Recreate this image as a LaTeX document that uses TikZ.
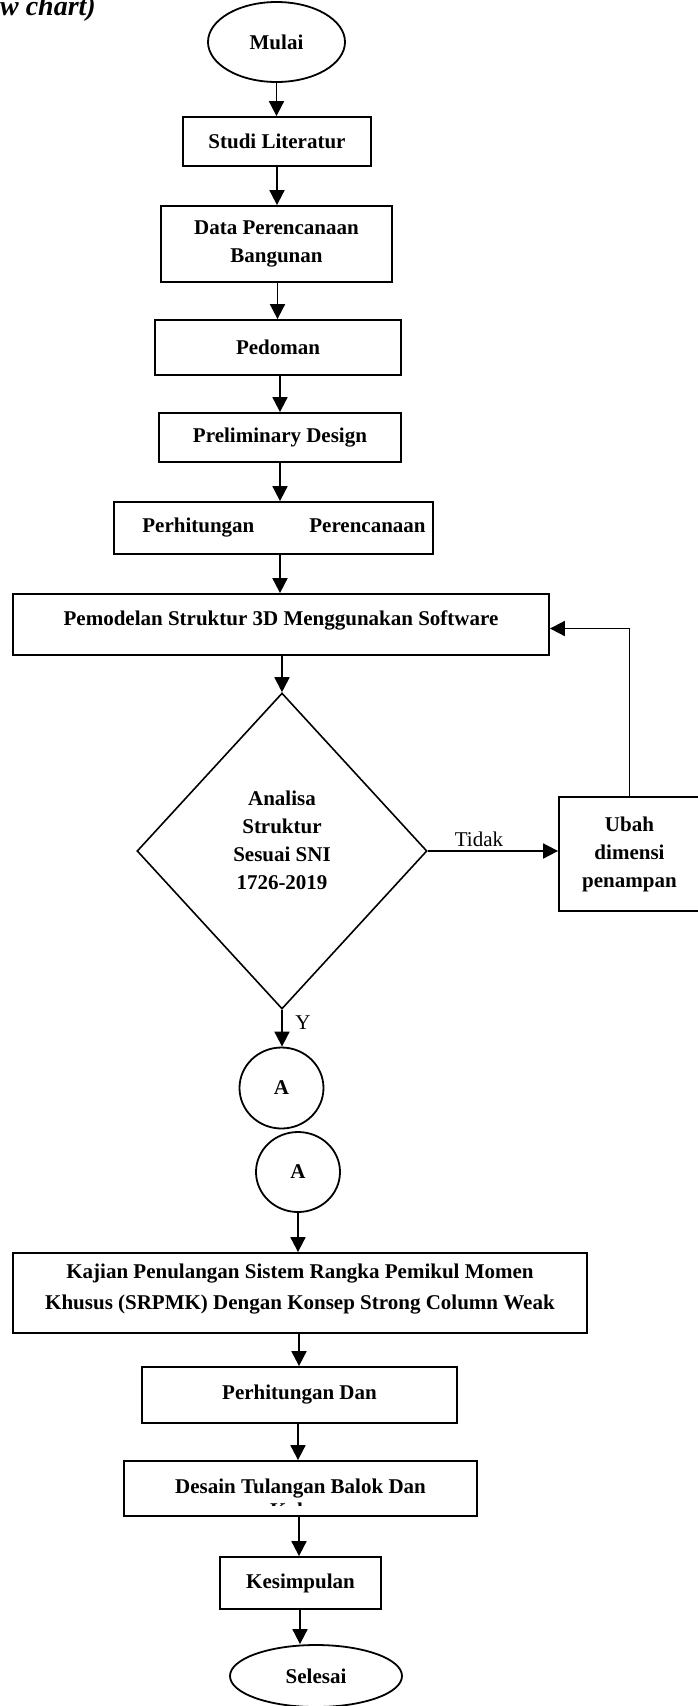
\documentclass[tikz,border=0pt]{standalone}
\usepackage{fontspec}
\setmainfont{Liberation Serif}
\usetikzlibrary{shapes.geometric,arrows.meta}
\begin{document}
\begin{tikzpicture}[x=1pt,y=-1pt,
  bold/.style={font=\fontsize{21}{28}\selectfont\bfseries},
  plain/.style={font=\fontsize{21}{25}\selectfont},
  proc/.style={bold,draw,line width=1.8pt,rectangle,inner sep=0pt,align=center},
  term/.style={bold,draw,line width=1.8pt,ellipse,inner sep=0pt},
  decide/.style={bold,draw,line width=1.6pt,diamond,inner sep=0pt,align=center},
  arr/.style={line width=1.8pt,-{Triangle[length=15pt,width=15pt]}}
]
\useasboundingbox (0,0) rectangle (697,1706);

% heading, partly outside the page
\node[anchor=base east,inner sep=0pt,font=\fontsize{28}{30}\selectfont\bfseries\itshape] (head) at (96,15) {w chart)};

% main column
\node[term,minimum width=137pt,minimum height=80pt] (mulai) at (276.5,42) {Mulai};
\node[proc,minimum width=188pt,minimum height=49pt] (studi) at (277,141.5) {Studi Literatur};
\node[proc,minimum width=231pt,minimum height=76pt] (data) at (276.5,244) {Data Perencanaan\\Bangunan};
\node[proc,minimum width=246pt,minimum height=55pt] (pedoman) at (278,347.5) {Pedoman};
\node[proc,minimum width=242pt,minimum height=49pt] (prelim) at (280,437.5) {Preliminary Design};
\node[proc,minimum width=319pt,minimum height=52pt] (hitung) at (273.5,528) {\hspace*{21pt}Perhitungan\hspace{55pt}Perencanaan};
\node[proc,minimum width=536pt,minimum height=61pt,text depth=13.5pt] (model) at (281,624.5) {Pemodelan Struktur 3D Menggunakan Software};
\node[decide,minimum width=290pt,minimum height=316pt,text depth=22pt] (analisa) at (282,851) {Analisa\\Struktur\\Sesuai SNI\\1726-2019};
\node[proc,minimum width=141pt,minimum height=114pt] (ubah) at (629.5,854) {Ubah\\dimensi\\penampan};

% connectors
\node[term,minimum width=84pt,minimum height=81pt] (a1) at (281.5,1088) {A};
\node[term,minimum width=84pt,minimum height=80pt] (a2) at (298,1172) {A};

% second part
\node[proc,minimum width=574pt,minimum height=80pt,text depth=13pt,font=\fontsize{21}{31}\selectfont\bfseries] (kajian) at (300,1293) {Kajian Penulangan Sistem Rangka Pemikul Momen\\Khusus (SRPMK) Dengan Konsep Strong Column Weak};
\node[proc,minimum width=315pt,minimum height=56pt] (hitdan) at (299.5,1395) {Perhitungan Dan};
\node[proc,minimum width=353pt,minimum height=55pt] (desain) at (300.5,1488.5) {Desain Tulangan Balok Dan};
\begin{scope}
  \clip (130,1495) rectangle (470,1505.5);
  \node[bold,anchor=base,inner sep=0pt] (kolom) at (300.5,1517) {Kolom};
\end{scope}
\node[proc,minimum width=161pt,minimum height=52pt] (simpul) at (300.5,1583) {Kesimpulan};
\node[term,minimum width=172pt,minimum height=62pt] (selesai) at (316,1676) {Selesai};

% labels
\node[plain,inner sep=0pt] (tidak) at (479,839) {Tidak};
\node[plain,inner sep=0pt] (ya) at (303,1023) {Y};

% arrows of the main column
\draw[arr] (mulai.south) -- (mulai.south |- studi.north);
\draw[arr] (studi.south) -- (studi.south |- data.north);
\draw[arr] ([xshift=1pt]data.south) -- ([xshift=1pt]data.south |- pedoman.north);
\draw[arr] ([xshift=2pt]pedoman.south) -- ([xshift=2pt]pedoman.south |- prelim.north);
\draw[arr] (prelim.south) -- (prelim.south |- hitung.north);
\draw[arr] ([xshift=6.5pt]hitung.south) -- ([xshift=6.5pt]hitung.south |- model.north);
\draw[arr] (model.south -| analisa.north) -- (analisa.north);

% decision branches
\draw[arr] (analisa.east) -- (analisa.east -| ubah.west);
\coordinate (back) at (630,628.5);
\draw[arr] (ubah.north) -- (ubah.north |- back) -- (model.east |- back);
\draw[arr] (analisa.south) -- (analisa.south |- a1.north);

% arrows of the second part
\draw[arr] (a2.south) -- (a2.south |- kajian.north);
\draw[arr] ([xshift=-1pt]kajian.south) -- ([xshift=-1pt]kajian.south |- hitdan.north);
\draw[arr] ([xshift=-1.5pt]hitdan.south) -- ([xshift=-1.5pt]hitdan.south |- desain.north);
\draw[arr] ([xshift=-1.5pt]desain.south) -- ([xshift=-1.5pt]desain.south |- simpul.north);
\draw[arr] ([xshift=-0.5pt]simpul.south) -- ([xshift=-0.5pt]simpul.south |- selesai.north);
\end{tikzpicture}
\end{document}
